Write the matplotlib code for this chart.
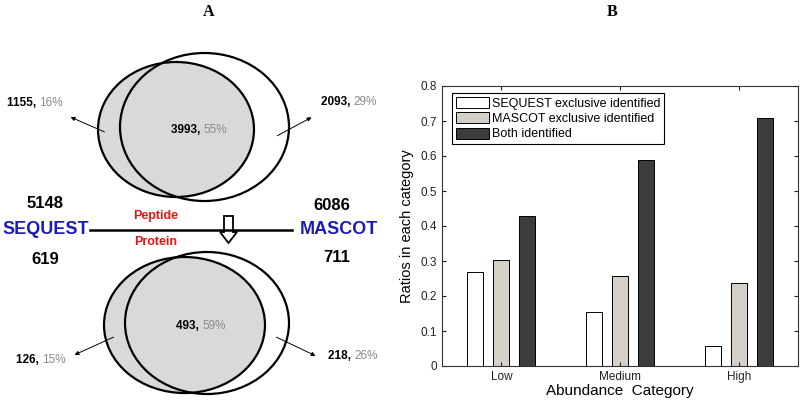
# Venn overlap of SEQUEST / MASCOT identifications (A) and ratio per abundance category (B)
import matplotlib
matplotlib.use("Agg")
import matplotlib.pyplot as plt
from matplotlib.patches import Ellipse, FancyArrow
import numpy as np

plt.rcParams['font.family'] = ['Liberation Sans', 'DejaVu Sans']

# panel A numbers
peptide_counts = [1155, 3993, 2093]
peptide_pcts = [16, 55, 29]
protein_counts = [126, 493, 218]
protein_pcts = [15, 59, 26]
totals_peptide = [5148, 6086]
totals_protein = [619, 711]
engines = ["SEQUEST", "MASCOT"]

# panel B data
categories = ["Low", "Medium", "High"]
series_names = ["SEQUEST exclusive identified", "MASCOT exclusive identified", "Both identified"]
sequest_only = [0.268, 0.154, 0.056]
mascot_only = [0.304, 0.258, 0.236]
both = [0.430, 0.588, 0.708]

BLUE = "#1c1cb4"
RED = "#ee1111"
PCT_GRAY = "#8a8a8a"
VENN_GRAY = "#d9d9d9"

fig = plt.figure(figsize=(8, 4.03), dpi=100)

# ---- panel A, drawn in pixel-like coordinates
axA = fig.add_axes([0, 0, 420 / 800, 1])
axA.set_xlim(0, 420)
axA.set_ylim(403, 0)
axA.axis("off")


def venn(ax, left_geom, right_geom):
    # right (white) first, then gray left on top, then both outlines
    ax.add_patch(Ellipse(right_geom[:2], right_geom[2], right_geom[3], fc="white", ec="none"))
    ax.add_patch(Ellipse(left_geom[:2], left_geom[2], left_geom[3], fc=VENN_GRAY, ec="none"))
    for g in (left_geom, right_geom):
        ax.add_patch(Ellipse(g[:2], g[2], g[3], fc="none", ec="black", lw=1.6))


def count_label(ax, x, y, count, pct, size=8.5):
    t = ax.text(x, y, f"{count}, ", fontsize=size, fontweight="bold", ha="left", va="center")
    ax.annotate(f"{pct}%", xy=(1, 0), xycoords=t, fontsize=size, color=PCT_GRAY,
                ha="left", va="bottom")


venn(axA, (176, 129.5, 156, 135), (204.5, 127, 169, 148))
venn(axA, (184.5, 325, 161, 136), (207, 323, 164, 142))

# peptide labels
count_label(axA, 7, 103, peptide_counts[0], peptide_pcts[0])
count_label(axA, 171, 130, peptide_counts[1], peptide_pcts[1])
count_label(axA, 321, 102, peptide_counts[2], peptide_pcts[2])
# protein labels
count_label(axA, 16, 360, protein_counts[0], protein_pcts[0])
count_label(axA, 176, 326, protein_counts[1], protein_pcts[1])
count_label(axA, 328, 356, protein_counts[2], protein_pcts[2])

arrow_kw = dict(arrowstyle="-|>", color="black", lw=0.7, mutation_scale=6)
for start, end in [((107, 133), (68, 116)), ((275, 137), (314, 116)),
                   ((116, 336), (72, 356)), ((274, 336), (318, 357))]:
    axA.annotate("", xy=end, xytext=start, arrowprops=arrow_kw)

# middle line with engine names and totals
axA.plot([90, 292], [230, 230], color="black", lw=1.8)
axA.text(46, 230, engines[0], color=BLUE, fontsize=13, fontweight="bold", ha="center", va="center")
axA.text(339, 230, engines[1], color=BLUE, fontsize=13, fontweight="bold", ha="center", va="center")
axA.text(45, 204, str(totals_peptide[0]), fontsize=12, fontweight="bold", ha="center", va="center")
axA.text(332, 205, str(totals_peptide[1]), fontsize=12, fontweight="bold", ha="center", va="center")
axA.text(45, 259, str(totals_protein[0]), fontsize=12, fontweight="bold", ha="center", va="center")
axA.text(337, 257, str(totals_protein[1]), fontsize=12, fontweight="bold", ha="center", va="center")
axA.text(156, 216, "Peptide", color=RED, fontsize=9, fontweight="bold", ha="center", va="center")
axA.text(156, 242, "Protein", color=RED, fontsize=9, fontweight="bold", ha="center", va="center")
axA.add_patch(FancyArrow(228.5, 216, 0, 27, width=9, head_width=17, head_length=11,
                         length_includes_head=True, fc="white", ec="black", lw=1.3))

# ---- panel B
axB = fig.add_axes([442 / 800, 37 / 403, 356 / 800, 280 / 403])
x = np.arange(1, len(categories) + 1)
w = 0.135
off = 0.22
colors = ["white", "#d4d0c8", "#3c3c3c"]
for i, (vals, name) in enumerate(zip([sequest_only, mascot_only, both], series_names)):
    axB.bar(x + (i - 1) * off, vals, w, color=colors[i], edgecolor="black", lw=0.7, label=name)

axB.set_xlim(0.5, 3.5)
axB.set_ylim(0, 0.8)
axB.set_xticks(x)
axB.set_xticklabels(categories)
yt = np.arange(0, 0.81, 0.1)
axB.set_yticks(yt)
axB.set_yticklabels(["0"] + [f"{v:.1f}" for v in yt[1:]])
axB.tick_params(direction="in", top=True, right=True, labelsize=8.5, colors="#222222", length=3)
for s in axB.spines.values():
    s.set_linewidth(0.8)
    s.set_color("#333333")
axB.set_xlabel("Abundance  Category", fontsize=11, labelpad=1)
axB.set_ylabel("Ratios in each category", fontsize=10.5, labelpad=5)
leg = axB.legend(loc="upper left", bbox_to_anchor=(0.028, 0.975), borderaxespad=0,
                 fontsize=9, fancybox=False, framealpha=1, edgecolor="black",
                 handlelength=2.7, handleheight=1.0, handletextpad=0.2,
                 labelspacing=0.2, borderpad=0.3)
leg.get_frame().set_linewidth(0.8)

fig.text(209 / 800, 1 - 12 / 403, "A", fontsize=11.5, fontweight="bold",
         family="Liberation Serif", ha="center", va="center")
fig.text(612 / 800, 1 - 12 / 403, "B", fontsize=11.5, fontweight="bold",
         family="Liberation Serif", ha="center", va="center")

fig.savefig("out.png", dpi=100)
